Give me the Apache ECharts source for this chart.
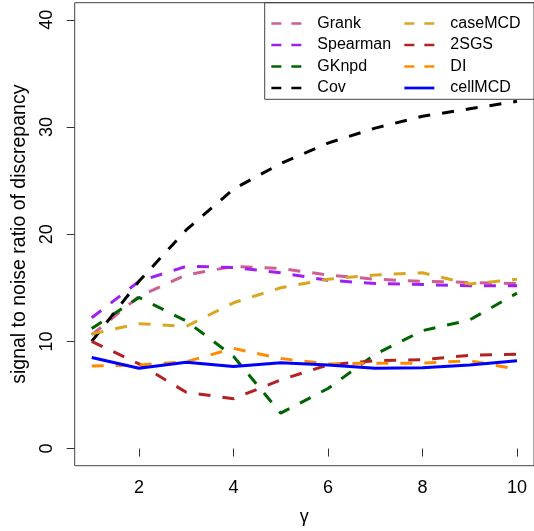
<!DOCTYPE html>
<html>
<head>
<meta charset="utf-8">
<script src="https://cdn.jsdelivr.net/npm/echarts@6/dist/echarts.min.js"></script>
<style>html,body{margin:0;padding:0;background:#fff}#c{width:534px;height:531px}</style>
</head>
<body>
<div id="c"></div>
<script>
var gamma = [1, 2, 3, 4, 5, 6, 7, 8, 9, 10];
var xTicks = [2, 4, 6, 8, 10];
var yTicks = [0, 10, 20, 30, 40];
var names = ['Grank', 'Spearman', 'GKnpd', 'Cov', 'caseMCD', '2SGS', 'DI', 'cellMCD'];
var grank    = [10.6, 14.2, 16.2, 17.0, 16.8, 16.2, 15.8, 15.6, 15.5, 15.4];
var spearman = [12.2, 15.6, 17.0, 16.9, 16.4, 15.7, 15.4, 15.3, 15.2, 15.2];
var gknpd    = [11.2, 14.1, 11.9, 8.6, 3.3, 5.6, 8.8, 11.0, 12.0, 14.5];
var cov      = [10.0, 15.6, 20.4, 24.2, 26.6, 28.5, 29.9, 31.0, 31.7, 32.4];
var casemcd  = [10.7, 11.65, 11.4, 13.6, 15.0, 15.8, 16.2, 16.4, 15.35, 15.8];
var sgs2     = [10.0, 7.9, 5.25, 4.65, 6.4, 7.8, 8.2, 8.3, 8.7, 8.8];
var di       = [7.7, 7.8, 8.1, 9.35, 8.4, 7.9, 7.97, 7.97, 8.2, 7.4];
var cellmcd  = [8.5, 7.5, 8.05, 7.65, 8.0, 7.8, 7.5, 7.55, 7.8, 8.2];
var values = [grank, spearman, gknpd, cov, casemcd, sgs2, di, cellmcd];
var colors = ['#CD6090', '#A020F0', '#006400', '#000000', '#DAA520', '#B22222', '#FF8C00', '#0000FF'];

var font = "'Liberation Sans', Arial, Helvetica, sans-serif";
var chart = echarts.init(document.getElementById('c'), null, {renderer: 'canvas'});

var series = names.map(function (n, i) {
  return {
    name: n,
    type: 'line',
    symbol: 'none',
    data: gamma.map(function (g, j) { return [g, values[i][j]]; }),
    lineStyle: {color: colors[i], width: 3, type: n === 'cellMCD' ? 'solid' : [12, 12], cap: 'butt'},
    itemStyle: {color: colors[i]},
    emphasis: {disabled: true},
    animation: false
  };
});

function legendOf(list, left) {
  return {
    data: list.map(function (n) {
      return n === 'cellMCD' ? {name: n} : {name: n, lineStyle: {type: [10, 10]}};
    }),
    left: left,
    top: 15.5,
    orient: 'vertical',
    padding: 0,
    itemWidth: 30,
    itemHeight: 14,
    itemGap: 5.5,
    selectedMode: false,
    itemStyle: {opacity: 0},
    lineStyle: {width: 2.7},
    textStyle: {fontFamily: font, fontSize: 16, color: '#000', padding: [0, 0, 0, 11]}
  };
}

chart.setOption({
  animation: false,
  backgroundColor: '#fff',
  grid: {left: 74.7, top: 2.7, width: 463, height: 463, show: true, borderColor: '#444', borderWidth: 1, backgroundColor: 'transparent'},
  xAxis: {
    type: 'value', min: 0.64, max: 10.36,
    name: 'γ', nameLocation: 'middle', nameGap: 42,
    nameTextStyle: {fontFamily: font, fontSize: 18, color: '#000'},
    axisLine: {show: false},
    axisTick: {show: true, length: 8, lineStyle: {color: '#333', width: 1}, customValues: xTicks},
    axisLabel: {fontFamily: font, fontSize: 18, color: '#000', margin: 13, customValues: xTicks},
    splitLine: {show: false}
  },
  yAxis: {
    type: 'value', min: -1.6, max: 41.6,
    name: 'signal to noise ratio of discrepancy', nameLocation: 'middle', nameGap: 45, nameRotate: 90,
    nameTextStyle: {fontFamily: font, fontSize: 19.5, color: '#000'},
    axisLine: {show: false},
    axisTick: {show: true, length: 8, lineStyle: {color: '#333', width: 1}, customValues: yTicks},
    axisLabel: {fontFamily: font, fontSize: 18, color: '#000', margin: 19, rotate: 90, customValues: yTicks},
    splitLine: {show: false}
  },
  legend: [legendOf(names.slice(0, 4), 270), legendOf(names.slice(4), 403)],
  graphic: [{
    type: 'rect', z: 100,
    shape: {x: 264.7, y: 2.7, width: 280, height: 96.6},
    style: {fill: 'none', stroke: '#444', lineWidth: 1}
  }],
  series: series
});
</script>
</body>
</html>
